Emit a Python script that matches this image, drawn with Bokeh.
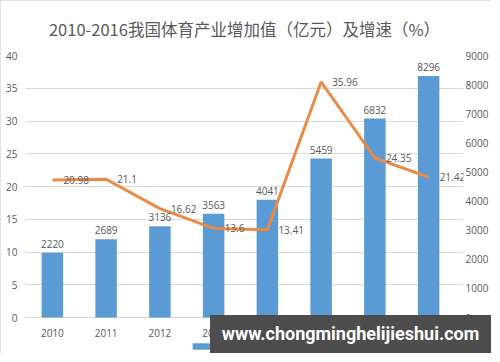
from bokeh.plotting import figure
from bokeh.models import (Range1d, LinearAxis, FixedTicker, ColumnDataSource,
                          Legend, LegendItem, Div)
from bokeh.layouts import column
from bokeh.core.properties import value
from bokeh.embed import file_html
from bokeh.resources import INLINE

years = ["2010", "2011", "2012", "2013", "2014", "2015", "2016", "2017"]
added_value = [2220, 2689, 3136, 3563, 4041, 5459, 6832, 8296]
growth = [20.98, 21.1, 16.62, 13.6, 13.41, 35.96, 24.35, 21.42]
left_ticks = [0, 5, 10, 15, 20, 25, 30, 35, 40]
right_ticks = [0, 1000, 2000, 3000, 4000, 5000, 6000, 7000, 8000, 9000]
legend_labels = ["增加值", "增速"]

title_text = "2010-2016我国体育产业增加值（亿元）及增速（%）"
watermark = "www.chongminghelijieshui.com"

BLUE = "#5B9BD5"
ORANGE = "#E98B45"
GRAY = "#595959"
FONT = "Open Sans"

LEFT_MAX, RIGHT_MAX = 40, 9000
below_frac = 36 / 262          # room under the zero line for category labels / legend
right_pad = 8 / 53.75          # a little room right of the last category for its label

n = len(years)
src = ColumnDataSource(dict(
    x=list(range(n)), v=added_value, g=growth, zero=[0] * n, cat=years,
    vl=[str(v) for v in added_value], gl=[f"{g:g}" for g in growth],
))

p = figure(x_range=Range1d(-0.5, n - 0.5 + right_pad),
           y_range=Range1d(-LEFT_MAX * below_frac, LEFT_MAX),
           frame_width=438, frame_height=298,
           min_border_left=25, min_border_right=27, min_border_top=55, min_border_bottom=0,
           output_backend="svg", toolbar_location=None,
           styles={"outline": "1px solid #D9D9D9", "outline-offset": "-1px"})
p.extra_y_ranges = {"val": Range1d(-RIGHT_MAX * below_frac, RIGHT_MAX)}

p.title.text = title_text
p.title.align = "center"
p.title.vertical_align = "top"
p.title.text_font = "Noto Sans CJK SC"
p.title.text_font_size = "16.5px"
p.title.text_font_style = "normal"
p.title.text_color = GRAY
p.title.standoff = 26

p.outline_line_color = None
p.xgrid.grid_line_color = None
p.ygrid.grid_line_color = "#D9D9D9"
p.ygrid.ticker = FixedTicker(ticks=left_ticks)
p.xaxis.visible = False

def style_axis(a, standoff):
    a.axis_line_color = None
    a.major_tick_line_color = None
    a.minor_tick_line_color = None
    a.major_tick_out = 0
    a.major_tick_in = 0
    a.major_label_text_color = GRAY
    a.major_label_text_font = FONT
    a.major_label_text_font_size = "10px"
    a.major_label_standoff = standoff

ax = p.yaxis[0]
ax.ticker = FixedTicker(ticks=left_ticks)
style_axis(ax, 8)

rax = LinearAxis(y_range_name="val", ticker=FixedTicker(ticks=right_ticks))
style_axis(rax, 2)
p.add_layout(rax, "right")

bars = p.vbar(x="x", top="v", width=0.4, source=src, y_range_name="val",
              fill_color=BLUE, line_color=None)
line = p.line(x="x", y="g", source=src, line_color=ORANGE, line_width=3)

p.text(x="x", y="v", text="vl", source=src, y_range_name="val",
       text_align="center", text_baseline="bottom", y_offset=-5,
       text_font=value(FONT), text_font_size="10px", text_color=GRAY)
p.text(x="x", y="g", text="gl", source=src,
       text_align="left", text_baseline="middle", x_offset=11,
       text_font=value(FONT), text_font_size="10px", text_color=GRAY)
# category labels under the zero line
p.text(x="x", y="zero", text="cat", source=src,
       text_align="center", text_baseline="middle", y_offset=15,
       text_font=value(FONT), text_font_size="10px", text_color=GRAY)

legend = Legend(items=[LegendItem(label=legend_labels[0], renderers=[bars]),
                       LegendItem(label=legend_labels[1], renderers=[line])],
                orientation="horizontal", location=(165, 0),
                label_text_font="Noto Sans CJK SC", label_text_font_size="10px",
                label_text_color=GRAY, glyph_width=22, glyph_height=8,
                padding=0, margin=0, spacing=8, border_line_color=None,
                background_fill_alpha=0, label_height=10, label_standoff=6)
p.add_layout(legend)

wm = Div(text=watermark, width=281, height=38,
         styles={"margin-top": "-38px", "margin-left": "210px",
                 "background-color": "#4D4D4D", "color": "white",
                 "font-family": "Roboto", "font-weight": "bold", "font-size": "18px",
                 "line-height": "38px", "text-align": "center",
                 "position": "relative", "z-index": "10", "white-space": "nowrap"})

layout = column(p, wm, spacing=0)
open("out.html", "w").write(file_html(layout, INLINE))
